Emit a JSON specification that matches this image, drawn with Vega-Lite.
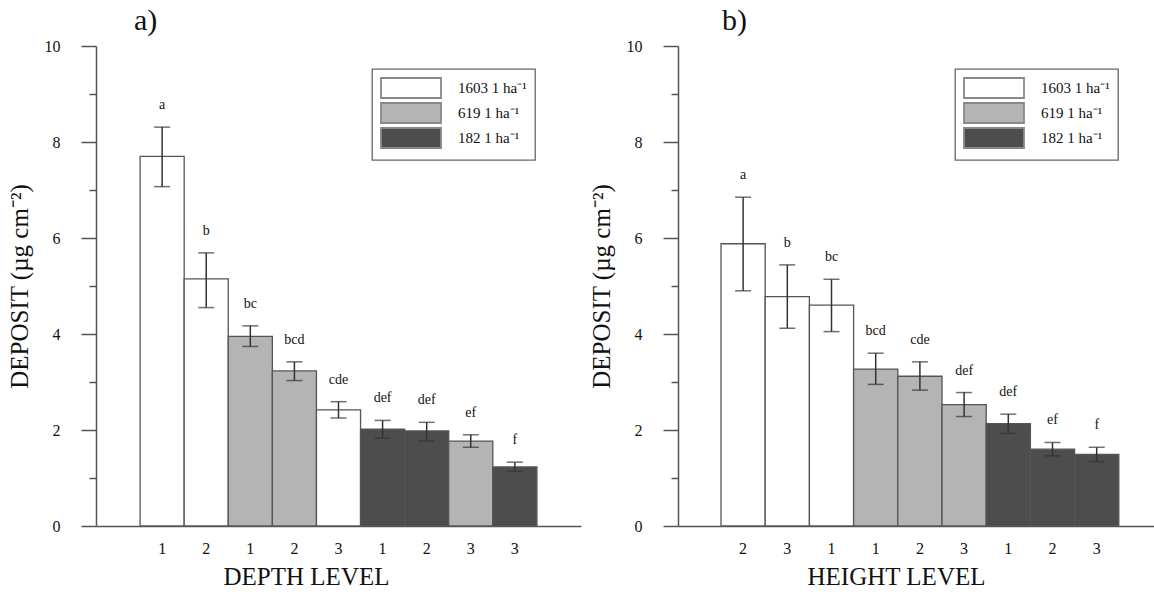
{
  "$schema": "https://vega.github.io/schema/vega-lite/v6.json",
  "padding": {"left": 7, "top": 6, "right": 0, "bottom": 0},
  "background": "white",
  "config": {
    "font": "Liberation Serif",
    "view": {"stroke": null},
    "axis": {"domainColor": "#555", "domainWidth": 1.5, "tickColor": "#555", "tickWidth": 1.5, "labelColor": "#111", "titleColor": "#111", "labelFont": "Liberation Serif", "titleFont": "Liberation Serif", "titleFontWeight": "normal", "grid": false},
    "legend": {"strokeColor": "#666", "strokeWidth": 1.3, "padding": 8, "symbolType": "M-1,-1H5V1H-1Z", "symbolSize": 400, "symbolStrokeColor": "#888", "symbolStrokeWidth": 1.8, "labelOffset": 56, "rowPadding": -4, "labelFont": "Liberation Serif", "labelFontSize": 15, "labelColor": "#111", "fillColor": "white", "labelLimit": 300},
    "title": {"font": "Liberation Serif", "fontSize": 30, "fontWeight": "normal", "color": "#111"}
  },
  "datasets": {
    "depth": [
      {"id": "1|1", "density": "1603 1 ha⁻¹", "mean": 7.7, "lo": 7.07, "hi": 8.31, "letter": "a"},
      {"id": "2|2", "density": "1603 1 ha⁻¹", "mean": 5.15, "lo": 4.55, "hi": 5.69, "letter": "b"},
      {"id": "3|1", "density": "619 1 ha⁻¹", "mean": 3.95, "lo": 3.74, "hi": 4.17, "letter": "bc"},
      {"id": "4|2", "density": "619 1 ha⁻¹", "mean": 3.23, "lo": 3.03, "hi": 3.42, "letter": "bcd"},
      {"id": "5|3", "density": "1603 1 ha⁻¹", "mean": 2.42, "lo": 2.25, "hi": 2.59, "letter": "cde"},
      {"id": "6|1", "density": "182 1 ha⁻¹", "mean": 2.02, "lo": 1.83, "hi": 2.2, "letter": "def"},
      {"id": "7|2", "density": "182 1 ha⁻¹", "mean": 1.98, "lo": 1.77, "hi": 2.16, "letter": "def"},
      {"id": "8|3", "density": "619 1 ha⁻¹", "mean": 1.77, "lo": 1.64, "hi": 1.9, "letter": "ef"},
      {"id": "9|3", "density": "182 1 ha⁻¹", "mean": 1.23, "lo": 1.14, "hi": 1.33, "letter": "f"}
    ],
    "height": [
      {"id": "1|2", "density": "1603 1 ha⁻¹", "mean": 5.88, "lo": 4.9, "hi": 6.85, "letter": "a"},
      {"id": "2|3", "density": "1603 1 ha⁻¹", "mean": 4.78, "lo": 4.12, "hi": 5.44, "letter": "b"},
      {"id": "3|1", "density": "1603 1 ha⁻¹", "mean": 4.6, "lo": 4.05, "hi": 5.14, "letter": "bc"},
      {"id": "4|1", "density": "619 1 ha⁻¹", "mean": 3.27, "lo": 2.95, "hi": 3.6, "letter": "bcd"},
      {"id": "5|2", "density": "619 1 ha⁻¹", "mean": 3.12, "lo": 2.83, "hi": 3.42, "letter": "cde"},
      {"id": "6|3", "density": "619 1 ha⁻¹", "mean": 2.53, "lo": 2.28, "hi": 2.78, "letter": "def"},
      {"id": "7|1", "density": "182 1 ha⁻¹", "mean": 2.13, "lo": 1.93, "hi": 2.33, "letter": "def"},
      {"id": "8|2", "density": "182 1 ha⁻¹", "mean": 1.6, "lo": 1.46, "hi": 1.74, "letter": "ef"},
      {"id": "9|3", "density": "182 1 ha⁻¹", "mean": 1.49, "lo": 1.34, "hi": 1.64, "letter": "f"}
    ]
  },
  "spacing": 8,
  "resolve": {"scale": {"fill": "independent", "x": "independent", "y": "independent"}, "legend": {"fill": "independent"}},
  "hconcat": [
    {
      "width": 485,
      "height": 480,
      "title": {"text": "a)", "anchor": "start", "frame": "group", "dx": 38, "offset": 2},
      "data": {"name": "depth"},
      "encoding": {
        "x": {"field": "id", "type": "nominal", "sort": null, "scale": {"paddingInner": 0, "paddingOuter": 1, "align": 0.5},
          "axis": {"title": "DEPTH LEVEL", "titleFontSize": 25, "titlePadding": 8, "titleX": 210, "ticks": false, "labelAngle": 0, "labelPadding": 14, "labelFontSize": 16, "labelExpr": "split(datum.label, '|')[1]"}}
      },
      "layer": [
        {
          "mark": {"type": "bar", "stroke": "#555", "strokeWidth": 1.3},
          "encoding": {
            "y": {"field": "mean", "type": "quantitative", "title": "DEPOSIT (µg cm⁻²)", "scale": {"domain": [0, 10]},
              "axis": {"values": [0,1,2,3,4,5,6,7,8,9,10], "labelExpr": "datum.value % 2 === 0 ? datum.label : ''", "tickSize": {"condition": {"test": "datum.value % 2 === 0", "value": 15}, "value": 7}, "labelPadding": 21, "labelFontSize": 16, "titleFontSize": 25, "titlePadding": 12}},
            "fill": {"field": "density", "type": "nominal", "title": null, "sort": null,
              "scale": {"domain": ["1603 1 ha⁻¹", "619 1 ha⁻¹", "182 1 ha⁻¹"], "range": ["#ffffff", "#b4b4b4", "#4d4d4d"]},
              "legend": {"orient": "none", "legendX": 276, "legendY": 23, "labelExpr": "datum.label + '\u2003\u2003'"}}
          }
        },
        {
          "mark": {"type": "rule", "color": "#333", "strokeWidth": 1.5},
          "encoding": {"y": {"field": "lo", "type": "quantitative", "title": "DEPOSIT (µg cm⁻²)"}, "y2": {"field": "hi"}}
        },
        {
          "mark": {"type": "tick", "color": "#333", "size": 16, "thickness": 1.5},
          "encoding": {"y": {"field": "lo", "type": "quantitative", "title": "DEPOSIT (µg cm⁻²)"}}
        },
        {
          "mark": {"type": "tick", "color": "#333", "size": 16, "thickness": 1.5},
          "encoding": {"y": {"field": "hi", "type": "quantitative", "title": "DEPOSIT (µg cm⁻²)"}}
        },
        {
          "mark": {"type": "text", "dy": -18, "baseline": "alphabetic", "fontSize": 14, "color": "#111"},
          "encoding": {"y": {"field": "hi", "type": "quantitative", "title": "DEPOSIT (µg cm⁻²)"}, "text": {"field": "letter"}}
        }
      ]
    },
    {
      "width": 477,
      "height": 480,
      "title": {"text": "b)", "anchor": "start", "frame": "group", "dx": 44, "offset": 2},
      "data": {"name": "height"},
      "encoding": {
        "x": {"field": "id", "type": "nominal", "sort": null, "scale": {"paddingInner": 0, "paddingOuter": 0.896, "align": 0.543},
          "axis": {"title": "HEIGHT LEVEL", "titleFontSize": 25, "titlePadding": 8, "titleX": 218, "ticks": false, "labelAngle": 0, "labelPadding": 14, "labelFontSize": 16, "labelExpr": "split(datum.label, '|')[1]"}}
      },
      "layer": [
        {
          "mark": {"type": "bar", "stroke": "#555", "strokeWidth": 1.3},
          "encoding": {
            "y": {"field": "mean", "type": "quantitative", "title": "DEPOSIT (µg cm⁻²)", "scale": {"domain": [0, 10]},
              "axis": {"values": [0,1,2,3,4,5,6,7,8,9,10], "labelExpr": "datum.value % 2 === 0 ? datum.label : ''", "tickSize": {"condition": {"test": "datum.value % 2 === 0", "value": 15}, "value": 7}, "labelPadding": 21, "labelFontSize": 16, "titleFontSize": 25, "titlePadding": 12}},
            "fill": {"field": "density", "type": "nominal", "title": null, "sort": null,
              "scale": {"domain": ["1603 1 ha⁻¹", "619 1 ha⁻¹", "182 1 ha⁻¹"], "range": ["#ffffff", "#b4b4b4", "#4d4d4d"]},
              "legend": {"orient": "none", "legendX": 277, "legendY": 23, "labelExpr": "datum.label + '\u2003\u2003'"}}
          }
        },
        {
          "mark": {"type": "rule", "color": "#333", "strokeWidth": 1.5},
          "encoding": {"y": {"field": "lo", "type": "quantitative", "title": "DEPOSIT (µg cm⁻²)"}, "y2": {"field": "hi"}}
        },
        {
          "mark": {"type": "tick", "color": "#333", "size": 16, "thickness": 1.5},
          "encoding": {"y": {"field": "lo", "type": "quantitative", "title": "DEPOSIT (µg cm⁻²)"}}
        },
        {
          "mark": {"type": "tick", "color": "#333", "size": 16, "thickness": 1.5},
          "encoding": {"y": {"field": "hi", "type": "quantitative", "title": "DEPOSIT (µg cm⁻²)"}}
        },
        {
          "mark": {"type": "text", "dy": -18, "baseline": "alphabetic", "fontSize": 14, "color": "#111"},
          "encoding": {"y": {"field": "hi", "type": "quantitative", "title": "DEPOSIT (µg cm⁻²)"}, "text": {"field": "letter"}}
        }
      ]
    }
  ]
}
